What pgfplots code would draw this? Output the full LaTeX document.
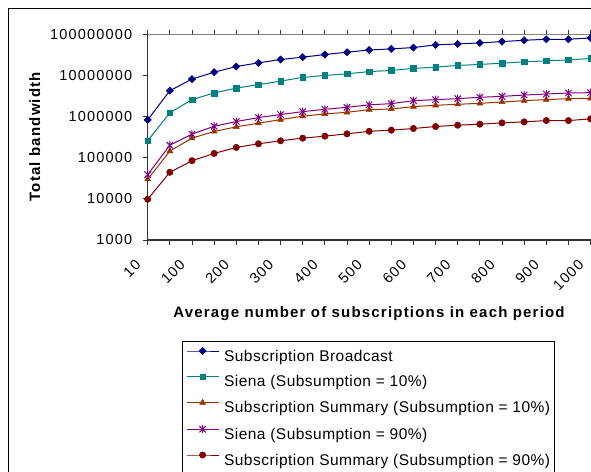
\documentclass[border=0pt]{standalone}
\usepackage{fontspec}
\setmainfont{Liberation Sans}
\newfontfamily\tickfont[LetterSpace=8]{Liberation Sans}
\newfontfamily\legfont[LetterSpace=3]{Liberation Sans}
\newfontfamily\labfont[LetterSpace=8]{Liberation Sans}
\usepackage{pgfplots}
\usepackage{pgfplotstable}
\pgfplotsset{compat=1.18}

\definecolor{cBroad}{HTML}{000080}
\definecolor{cSienaA}{HTML}{008080}
\definecolor{cSumA}{HTML}{993300}
\definecolor{cSienaB}{HTML}{800080}
\definecolor{cSumB}{HTML}{800000}

% total bandwidth per period; n = category index (10, 50, 100, ..., 1000)
\pgfplotstableread{
n  broad     sienaA    sumA     sienaB   sumB
0  832000    258000    29900    38800    9800
1  4260000   1230000   145000   202000   44200
2  8150000   2580000   299000   374000   84600
3  12000000  3740000   434000   583000   127000
4  16500000  4940000   562000   757000   178000
5  20200000  5940000   690000   946000   218000
6  24400000  7290000   845000   1120000  258000
7  27800000  8950000   1020000  1320000  299000
8  32200000  10000000  1160000  1500000  334000
9  36700000  10970000  1270000  1680000  381000
10 41500000  12400000  1470000  1930000  438000
11 44200000  13200000  1530000  2060000  467000
12 47600000  14800000  1750000  2440000  513000
13 55200000  15900000  1880000  2580000  573000
14 58300000  17500000  1990000  2730000  617000
15 61700000  18500000  2100000  2940000  653000
16 66500000  19900000  2260000  3100000  703000
17 71600000  21400000  2440000  3340000  743000
18 75700000  22600000  2580000  3530000  800000
19 75700000  23900000  2730000  3740000  800000
20 81500000  25800000  2780000  3810000  879000
}\bwdata

% square-proportioned diamond
\pgfdeclareplotmark{xldiamond}{%
  \pgfpathmoveto{\pgfqpoint{0pt}{\pgfplotmarksize}}%
  \pgfpathlineto{\pgfqpoint{\pgfplotmarksize}{0pt}}%
  \pgfpathlineto{\pgfqpoint{0pt}{-\pgfplotmarksize}}%
  \pgfpathlineto{\pgfqpoint{-\pgfplotmarksize}{0pt}}%
  \pgfpathclose
  \pgfusepathqfillstroke}
% star: vertical bar plus a cross
\pgfdeclareplotmark{xlstar}{%
  \pgfpathmoveto{\pgfqpoint{0pt}{\pgfplotmarksize}}%
  \pgfpathlineto{\pgfqpoint{0pt}{-\pgfplotmarksize}}%
  \pgfpathmoveto{\pgfqpoint{-0.8\pgfplotmarksize}{0.8\pgfplotmarksize}}%
  \pgfpathlineto{\pgfqpoint{0.8\pgfplotmarksize}{-0.8\pgfplotmarksize}}%
  \pgfpathmoveto{\pgfqpoint{-0.8\pgfplotmarksize}{-0.8\pgfplotmarksize}}%
  \pgfpathlineto{\pgfqpoint{0.8\pgfplotmarksize}{0.8\pgfplotmarksize}}%
  \pgfusepathqstroke}

\begin{document}
\begin{tikzpicture}[x=1pt,y=1pt]
\path[use as bounding box] (0,0) rectangle (591,471);
\fill[white] (0,0) rectangle (591,471);
\draw[black, line width=1.3pt] (8.3,-10) -- (8.3,462.7) -- (610,462.7);
\begin{axis}[
  at={(147.7pt,231pt)}, anchor=south west,
  scale only axis, width=445.1pt, height=205.7pt,
  xmin=0, xmax=20.1,
  ymode=log, ymin=1000, ymax=1e8,
  yminorticks=false,
  ytick={1e3,1e4,1e5,1e6,1e7,1e8},
  yticklabels={1000,10000,100000,1000000,10000000,100000000},
  xtick={0,2,...,20},
  xticklabels={10,100,200,300,400,500,600,700,800,900,1000},
  minor xtick={1,3,...,19},
  tick align=outside,
  major tick length=4.7pt,
  minor tick length=4.7pt,
  tick style={black!80, line width=0.8pt},
  axis line style={gray, line width=0.8pt},
  clip=false,
  yticklabel style={font=\tickfont\fontsize{14.5pt}{16pt}\selectfont,
    anchor=east, inner sep=0pt, xshift=-10.7pt},
  xticklabel style={font=\tickfont\fontsize{14.5pt}{16pt}\selectfont,
    xshift=-9.5pt, yshift=-17.5pt, rotate=45, anchor=east, inner sep=0pt},
  legend style={at={(axis description cs:0.0764,-0.491)}, anchor=north west,
    draw=black, line width=0.8pt, inner xsep=4pt, inner ysep=6pt,
    row sep=8.6pt, column sep=5pt,
    font=\legfont\fontsize{15.5pt}{18pt}\selectfont,
    nodes={inner sep=0pt, text height=13pt, text depth=4pt}},
  legend cell align=left,
  legend image code/.code={%
    \draw[mark repeat=2,mark phase=2,#1]
      plot coordinates {(0pt,5.5pt) (16pt,5.5pt) (32pt,5.5pt)};},
]
\draw[black!80, line width=1.3pt] (rel axis cs:0,1) -- (rel axis cs:0,0) -- (rel axis cs:1,0);

\addplot[cBroad, line width=1pt, mark=xldiamond, mark size=3.6pt,
  mark options={fill=cBroad, line width=0.5pt}] table[x=n, y=broad] {\bwdata};
\addlegendentry{Subscription Broadcast}
\addplot[cSienaA, line width=1pt, mark=square*, mark size=2.8pt,
  mark options={fill=cSienaA, line width=0.5pt}] table[x=n, y=sienaA] {\bwdata};
\addlegendentry{Siena (Subsumption = 10\%)}
\addplot[cSumA, line width=1pt, mark=triangle*, mark size=3.4pt,
  mark options={fill=cSumA, line width=0.5pt}] table[x=n, y=sumA] {\bwdata};
\addlegendentry{Subscription Summary (Subsumption = 10\%)}
\addplot[cSienaB, line width=1pt, mark=xlstar, mark size=4pt,
  mark options={line width=1pt}] table[x=n, y=sienaB] {\bwdata};
\addlegendentry{Siena (Subsumption = 90\%)}
\addplot[cSumB, line width=1pt, mark=*, mark size=3.2pt,
  mark options={fill=cSumB, line width=0.5pt}] table[x=n, y=sumB] {\bwdata};
\addlegendentry{Subscription Summary (Subsumption = 90\%)}
\end{axis}
\node[font=\labfont\bfseries\fontsize{15pt}{18pt}\selectfont, anchor=base, inner sep=0pt]
  at (369,153.7) {Average number of subscriptions in each period};
\node[font=\labfont\bfseries\fontsize{15pt}{18pt}\selectfont, anchor=base, rotate=90, inner sep=0pt]
  at (40,334.3) {Total bandwidth};
\end{tikzpicture}
\end{document}
